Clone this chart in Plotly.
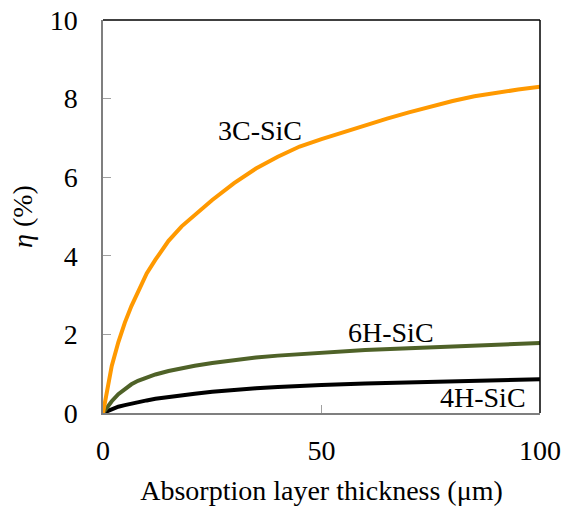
import plotly.graph_objects as go

x_um = [0, 1, 2, 3.5, 5, 6.5, 8, 10, 12, 15, 18, 21, 25, 30, 35, 40, 45, 50, 55, 60, 65, 70, 75, 80, 85, 90, 95, 100]
eta_3c = [0, 0.65, 1.2, 1.8, 2.3, 2.72, 3.1, 3.55, 3.9, 4.38, 4.75, 5.05, 5.42, 5.85, 6.22, 6.52, 6.78, 6.97, 7.15, 7.32, 7.49, 7.65, 7.8, 7.94, 8.06, 8.15, 8.23, 8.3]

x_um2 = [0, 1, 2, 3.5, 5, 6.5, 8, 10, 12, 15, 18, 21, 25, 30, 35, 40, 45, 50, 60, 70, 80, 90, 100]
eta_6h = [0, 0.16, 0.3, 0.48, 0.62, 0.73, 0.82, 0.91, 0.98, 1.07, 1.14, 1.2, 1.27, 1.35, 1.41, 1.46, 1.5, 1.54, 1.6, 1.65, 1.7, 1.74, 1.78]
eta_4h = [0, 0.05, 0.1, 0.16, 0.2, 0.24, 0.28, 0.32, 0.36, 0.41, 0.45, 0.49, 0.54, 0.59, 0.63, 0.66, 0.69, 0.71, 0.75, 0.78, 0.81, 0.84, 0.86]

labels = ["3C-SiC", "6H-SiC", "4H-SiC"]
label_x = [36, 66, 87]
label_y = [7.2, 2.05, 0.4]

font = "Liberation Serif"
fig = go.Figure()
fig.add_trace(go.Scatter(x=x_um2, y=eta_4h, mode="lines", line=dict(color="#000000", width=4)))
fig.add_trace(go.Scatter(x=x_um2, y=eta_6h, mode="lines", line=dict(color="#4F6228", width=4)))
fig.add_trace(go.Scatter(x=x_um, y=eta_3c, mode="lines", line=dict(color="#FF9900", width=4)))

for t, lx, ly in zip(labels, label_x, label_y):
    fig.add_annotation(x=lx, y=ly, text=t, showarrow=False, font=dict(family=font, size=28, color="black"))

fig.add_shape(type="line", xref="paper", yref="paper", x0=0, x1=1, y0=1, y1=1, line=dict(color="black", width=1.5))
fig.add_shape(type="line", xref="paper", yref="paper", x0=1, x1=1, y0=0, y1=1, line=dict(color="black", width=1.5))

fig.update_layout(
    width=566, height=506,
    margin=dict(l=103, r=26, t=20, b=93),
    paper_bgcolor="white", plot_bgcolor="white",
    showlegend=False,
    font=dict(family=font, size=28, color="black"),
    xaxis=dict(range=[0, 100], tickvals=[0, 50, 100], ticks="inside", ticklen=8, tickcolor="#A0A0A0",
               showline=True, linecolor="#7F7F7F", linewidth=1.5, showgrid=False, zeroline=False,
               automargin=False, ticklabelstandoff=12,
               title=dict(text="Absorption layer thickness (μm)", font=dict(size=28), standoff=16),
               tickfont=dict(size=28)),
    yaxis=dict(range=[0, 10], tickvals=[0, 2, 4, 6, 8, 10], ticks="inside", ticklen=8, tickcolor="#A0A0A0",
               showline=True, linecolor="#7F7F7F", linewidth=1.5, showgrid=False, zeroline=False,
               automargin=False, ticklabelstandoff=18,
               title=dict(text="<i>η</i> (%)", font=dict(size=28), standoff=9),
               tickfont=dict(size=28)),
)
fig.write_html("out.html")
